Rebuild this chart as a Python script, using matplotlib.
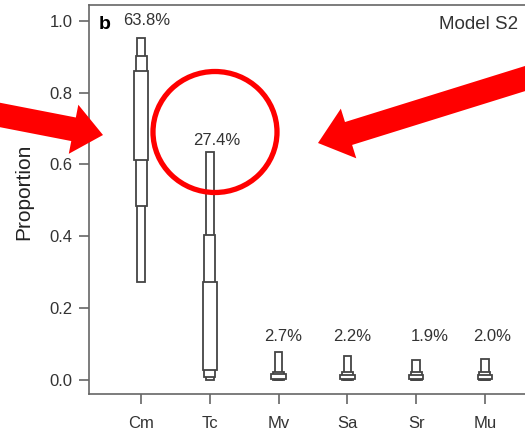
import matplotlib
matplotlib.use("Agg")
import matplotlib.pyplot as plt
import numpy as np
from matplotlib.patches import Ellipse, FancyArrow

plt.rcParams["font.family"] = ["Liberation Sans", "DejaVu Sans"]

# posterior proportion per source, three nested intervals (narrow / medium / wide box)
categories = ["Cm", "Tc", "Mv", "Sa", "Sr", "Mu"]
narrow_lo = [0.274, 0.000, 0.000, 0.000, 0.000, 0.000]
narrow_hi = [0.951, 0.634, 0.079, 0.068, 0.056, 0.058]
medium_lo = [0.485, 0.0075, 0.001, 0.001, 0.001, 0.001]
medium_hi = [0.902, 0.403, 0.021, 0.022, 0.021, 0.021]
wide_lo = [0.612, 0.028, 0.003, 0.003, 0.003, 0.003]
wide_hi = [0.859, 0.274, 0.016, 0.015, 0.014, 0.014]
pct_labels = ["63.8%", "27.4%", "2.7%", "2.2%", "1.9%", "2.0%"]
label_y = [1.0, 0.666, 0.12, 0.12, 0.12, 0.12]
label_nudge = [0.087, 0.10, 0.06, 0.07, 0.20, 0.10]

TEXT = "#333333"
EDGE = "#444444"
SPINE = "#666666"

fig = plt.figure(figsize=(5.25, 4.34), dpi=100)
ax = fig.add_axes([89 / 525, 40 / 434, 448 / 525, 389 / 434])

x = np.arange(1, len(categories) + 1)
for lo, hi, width, z in ((narrow_lo, narrow_hi, 0.109, 2),
                         (medium_lo, medium_hi, 0.16, 3),
                         (wide_lo, wide_hi, 0.208, 4)):
    lo = np.asarray(lo)
    hi = np.asarray(hi)
    ax.bar(x, hi - lo, bottom=lo, width=width, color="white",
           edgecolor=EDGE, linewidth=1.3, zorder=z)

for xi, lab, ly, dx in zip(x, pct_labels, label_y, label_nudge):
    ax.text(xi + dx, ly, lab, ha="center", va="center", fontsize=12, color=TEXT)

ax.set_xlim(0.244, 6.756)
ax.set_ylim(-0.039, 1.0437)
ax.set_xticks(x)
ax.set_xticklabels(categories)
ax.set_yticks(np.arange(0, 1.01, 0.2))
ax.set_yticklabels([f"{v:.1f}" for v in np.arange(0, 1.01, 0.2)])
ax.tick_params(axis="both", direction="out", length=7, width=1.2, color=SPINE,
               labelsize=12, labelcolor=TEXT)
ax.tick_params(axis="y", pad=5)
ax.tick_params(axis="x", pad=8.5)
for side in ax.spines.values():
    side.set_color(SPINE)
    side.set_linewidth(1.2)

ax.set_ylabel("Proportion", fontsize=15, color="#222222")
ax.yaxis.set_label_coords(-0.125, 0.519)

ax.text(0.036, 0.949, "b", transform=ax.transAxes, fontsize=14,
        fontweight="bold", ha="center", va="center", color="black")
ax.text(0.9576, 0.949, "Model S2", transform=ax.transAxes, fontsize=13.5,
        ha="right", va="center", color=TEXT)

# red call-out overlay in pixel coordinates
over = fig.add_axes([0, 0, 1, 1], facecolor="none")
over.set_xlim(0, 525)
over.set_ylim(434, 0)
over.axis("off")
over.add_patch(Ellipse((215, 132), 124, 121, fill=False, edgecolor="#ff0000", linewidth=3.8))
over.add_patch(FancyArrow(-5, 114, 108, 21, width=24, head_width=50, head_length=30,
                          length_includes_head=True, color="#ff0000", linewidth=0))
over.add_patch(FancyArrow(530, 77, -212, 66, width=24, head_width=52, head_length=32,
                          length_includes_head=True, color="#ff0000", linewidth=0))

fig.savefig("out.png", dpi=100)
